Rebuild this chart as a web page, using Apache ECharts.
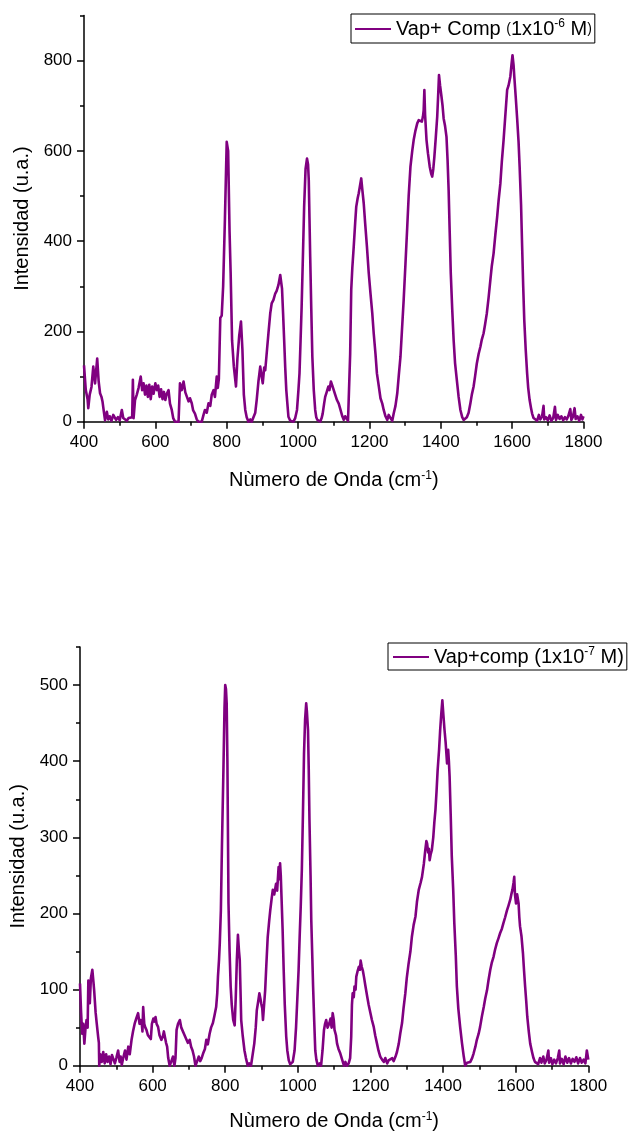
<!DOCTYPE html>
<html>
<head>
<meta charset="utf-8">
<script src="https://cdn.jsdelivr.net/npm/echarts@6/dist/echarts.min.js"></script>
<style>
html,body{margin:0;padding:0;background:#fff;}
#chart{width:632px;height:1133px;}
</style>
</head>
<body>
<div id="chart"></div>
<script>
// ---- Data ----
const xTicks = [400, 600, 800, 1000, 1200, 1400, 1600, 1800];
const yTicksTop = [0, 200, 400, 600, 800];
const yMinorTop = [100, 300, 500, 700, 900];
const yTicksBottom = [0, 100, 200, 300, 400, 500];
const yMinorBottom = [50, 150, 250, 350, 450, 550];

const name6 = 'Vap+ Comp (1x10-6 M)';
const name7 = 'Vap+comp (1x10-7 M)';

const wn6 = [400,405,410,412,416,421,426,431,437,441,445,449,452,456,459,464,468,472,477,482,487,490,495,500,506,510,515,520,525,530,535,537,539,543,548,553,559,563,567,571,575,579,583,587,591,595,600,604,608,612,616,620,624,628,632,637,641,646,650,655,660,665,669,674,679,684,688,693,697,702,706,711,716,721,726,730,735,739,744,749,754,758,763,767,772,775,778,782,786,790,795,800,804,808,811,815,820,823,826,830,835,840,844,848,852,856,861,866,870,875,880,884,889,894,898,901,905,908,913,917,922,926,931,936,940,945,950,955,958,961,964,967,970,973,978,983,987,992,997,1001,1004,1007,1010,1014,1017,1021,1025,1028,1030,1032,1034,1037,1040,1044,1048,1051,1054,1058,1062,1066,1069,1073,1076,1080,1085,1088,1092,1096,1100,1104,1109,1114,1119,1124,1128,1132,1137,1140,1144,1146,1149,1152,1156,1160,1163,1167,1170,1173,1177,1180,1184,1188,1193,1198,1203,1208,1212,1217,1221,1226,1231,1236,1240,1245,1250,1254,1259,1264,1268,1273,1278,1282,1287,1291,1296,1301,1306,1310,1315,1320,1324,1329,1334,1338,1343,1347,1350,1352,1354,1356,1360,1364,1369,1373,1376,1379,1382,1386,1390,1393,1395,1398,1402,1405,1408,1412,1416,1419,1422,1425,1428,1432,1436,1440,1445,1450,1455,1460,1464,1468,1473,1478,1483,1487,1492,1496,1501,1506,1511,1515,1520,1524,1529,1534,1539,1543,1548,1553,1558,1562,1567,1571,1576,1581,1586,1590,1595,1598,1601,1604,1606,1610,1614,1618,1621,1625,1628,1631,1634,1638,1642,1645,1649,1653,1656,1660,1665,1670,1675,1679,1684,1688,1690,1695,1700,1705,1710,1715,1720,1723,1728,1733,1738,1743,1748,1753,1758,1763,1766,1770,1775,1778,1783,1788,1793,1797,1800];
const int6 = [125,70,50,30,60,77,122,85,140,90,63,55,44,20,3,22,5,12,2,15,18,4,10,3,26,8,12,2,8,4,10,93,8,48,60,75,100,70,85,60,80,55,82,50,78,62,85,70,80,55,72,50,66,48,62,70,40,26,8,0,2,0,85,70,89,65,63,45,52,41,25,18,5,0,3,0,15,26,20,41,35,60,70,55,100,75,95,230,235,300,450,620,600,420,330,180,122,100,78,140,190,222,160,60,26,10,0,5,0,4,20,48,90,122,100,85,120,114,160,196,240,262,270,284,290,303,325,295,240,181,120,70,40,11,2,0,0,8,26,70,107,180,255,380,476,560,583,570,535,450,365,250,144,70,26,10,4,0,0,8,18,40,55,65,78,70,89,80,70,60,48,40,26,12,4,12,11,2,5,150,292,340,388,440,476,495,506,520,539,515,484,440,388,330,284,240,196,150,107,80,52,40,26,12,4,15,8,2,18,35,63,100,144,200,270,350,432,500,565,600,624,645,661,668,672,665,676,690,735,680,624,595,565,550,543,560,587,630,676,730,768,745,720,700,672,655,631,580,513,420,329,250,181,130,92,55,26,10,4,0,10,20,41,60,78,100,129,150,166,182,196,215,240,275,314,345,373,415,454,490,528,575,624,680,735,745,765,790,812,790,765,720,672,620,565,480,388,300,225,160,107,75,48,30,18,8,11,2,15,5,12,35,5,10,3,14,2,8,33,4,15,6,12,3,10,5,14,28,4,10,30,6,12,2,15,5,12];

const wn7 = [400,403,406,409,412,415,418,421,423,425,427,430,434,437,439,443,446,450,452,453,456,460,464,468,472,476,480,484,488,492,496,500,505,509,512,515,519,524,528,533,537,542,546,551,555,560,564,567,570,572,574,577,580,583,587,592,595,598,602,605,608,611,615,619,624,628,631,634,637,640,643,647,651,656,660,663,666,670,675,679,684,688,693,697,702,706,710,714,718,722,727,731,735,739,744,748,752,757,761,766,770,775,778,780,783,785,788,791,795,798,800,802,804,806,809,812,815,818,822,826,829,832,835,838,840,842,844,848,853,857,862,866,871,875,880,884,887,891,894,897,899,902,904,907,910,913,917,921,924,928,931,935,940,943,947,949,951,953,955,958,961,964,968,971,975,979,982,986,991,995,998,1002,1005,1008,1011,1014,1017,1020,1023,1025,1028,1030,1032,1035,1037,1040,1042,1045,1048,1051,1055,1060,1064,1068,1072,1075,1078,1082,1087,1090,1093,1096,1099,1101,1105,1108,1112,1117,1122,1127,1131,1135,1140,1144,1147,1149,1151,1154,1156,1159,1161,1165,1168,1171,1173,1176,1179,1182,1186,1191,1195,1200,1204,1209,1213,1218,1222,1227,1232,1237,1241,1246,1250,1255,1260,1264,1269,1273,1278,1282,1287,1291,1296,1300,1305,1310,1314,1319,1324,1328,1333,1338,1342,1347,1351,1354,1356,1359,1361,1363,1366,1369,1373,1376,1379,1382,1385,1389,1392,1395,1398,1399,1401,1404,1407,1411,1414,1416,1418,1421,1424,1428,1431,1435,1438,1442,1447,1452,1457,1461,1466,1470,1475,1480,1484,1489,1493,1498,1502,1507,1512,1516,1521,1525,1530,1534,1539,1543,1548,1553,1557,1562,1566,1571,1576,1580,1585,1588,1591,1594,1596,1598,1601,1604,1608,1610,1612,1616,1620,1623,1626,1629,1632,1636,1640,1645,1649,1653,1658,1662,1667,1671,1676,1680,1685,1690,1692,1697,1701,1706,1711,1716,1720,1722,1727,1732,1737,1742,1747,1752,1757,1762,1767,1772,1777,1782,1787,1792,1796,1800];
const int7 = [108,70,42,55,29,48,60,50,112,95,82,115,126,110,99,70,56,38,30,0,15,5,18,3,15,5,12,2,14,16,3,10,20,5,12,1,10,20,8,25,15,34,45,56,62,69,55,60,56,45,77,55,50,47,40,42,35,55,62,58,64,55,51,40,34,38,45,47,30,25,10,0,5,12,0,10,47,55,60,50,51,40,42,30,34,25,20,12,0,5,12,6,10,16,22,34,28,42,50,56,65,77,95,117,140,161,204,290,388,470,500,495,476,400,213,150,104,80,60,53,90,139,172,150,139,100,60,40,20,10,0,3,0,2,29,50,73,85,95,88,82,75,60,80,99,130,169,190,204,220,231,225,239,230,261,245,266,250,222,180,126,80,38,20,7,2,0,5,20,50,82,125,169,210,257,330,410,455,476,465,441,390,323,250,191,140,104,60,20,8,0,3,0,20,47,55,60,50,56,62,50,69,60,47,40,29,22,16,8,0,5,0,3,10,38,80,95,90,104,100,117,125,130,126,138,130,125,117,105,91,80,69,60,51,40,29,20,12,8,5,10,3,7,5,10,6,12,18,29,42,56,75,95,115,134,150,169,185,196,215,231,240,248,265,283,295,292,280,285,270,278,283,300,320,336,360,388,415,441,462,480,482,460,441,425,397,415,400,380,330,275,230,187,145,104,75,51,30,12,0,4,2,5,10,16,25,34,42,51,65,77,88,99,112,126,135,143,152,161,168,174,180,187,195,204,210,218,225,231,240,248,225,213,225,213,195,183,170,148,125,104,85,64,45,29,18,10,5,7,2,10,4,12,3,8,20,4,10,2,8,3,10,20,3,9,2,12,4,10,3,9,5,11,3,10,4,8,3,20,8];

// ---- Chart ----
const FONT = 'Liberation Sans, Arial, sans-serif';
const PURPLE = '#800080';
const pairs = (xs, ys) => xs.map((x, i) => [x, ys[i]]);
const axisLineStyle = { color: '#000', width: 1.5 };
const plain = v => String(v);

function xAxisFor(grid, gap) {
  return {
    gridIndex: grid, type: 'value', min: 400, max: 1800, interval: 200,
    axisLine: { show: true, onZero: false, lineStyle: axisLineStyle },
    axisTick: { show: true, inside: false, length: 7, lineStyle: axisLineStyle },
    minorTick: { show: true, splitNumber: 2, length: 4, lineStyle: axisLineStyle },
    splitLine: { show: false }, minorSplitLine: { show: false },
    axisLabel: { fontSize: 17, color: '#000', fontFamily: FONT, margin: 12,
      customValues: xTicks, formatter: plain },
    name: 'Nùmero de Onda (cm{sup|-1})', nameLocation: 'middle', nameGap: gap,
    nameTextStyle: { fontSize: 20, color: '#000', fontFamily: FONT,
      rich: { sup: { fontSize: 12, verticalAlign: 'top', fontFamily: FONT, color: '#000', padding: [0, 0, 10, 0] } } }
  };
}
function yAxisMain(grid, max, ticks, gap) {
  return {
    gridIndex: grid, type: 'value', min: 0, max: max, interval: 50, position: 'left',
    axisLine: { show: true, onZero: false, lineStyle: axisLineStyle },
    axisTick: { show: true, length: 7, lineStyle: axisLineStyle, customValues: ticks },
    splitLine: { show: false },
    axisLabel: { fontSize: 17, color: '#000', fontFamily: FONT, margin: 12, customValues: ticks, formatter: plain },
    name: 'Intensidad (u.a.)', nameLocation: 'middle', nameGap: gap, nameRotate: 90,
    nameTextStyle: { fontSize: 20, color: '#000', fontFamily: FONT }
  };
}
function yAxisMinor(grid, max, ticks) {
  return {
    gridIndex: grid, type: 'value', min: 0, max: max, interval: 50, position: 'left', offset: 0,
    axisLine: { show: false, onZero: false },
    axisTick: { show: true, length: 4, lineStyle: axisLineStyle, customValues: ticks },
    splitLine: { show: false },
    axisLabel: { show: false }
  };
}
function legendFor(name, left, top, padding) {
  return {
    data: [name], left: left, top: top, orient: 'horizontal',
    icon: 'rect', itemWidth: 36, itemHeight: 2, itemGap: 0,
    padding: padding, borderColor: '#000', borderWidth: 1, backgroundColor: '#fff',
    textStyle: { fontSize: 20, color: '#000', fontFamily: FONT,
      rich: {
        sup: { fontSize: 12, verticalAlign: 'top', fontFamily: FONT, color: '#000', padding: [0, 0, 10, 0] },
        sp: { fontSize: 14, fontFamily: FONT, color: '#000' }
      } },
    formatter: function (n) {
      if (n === name6) return 'Vap+ Comp {sp|(}1x10{sup|-6} M{sp|)}';
      return 'Vap+comp (1x10{sup|-7} M)';
    }
  };
}

const chart = echarts.init(document.getElementById('chart'), null, { renderer: 'canvas' });
chart.setOption({
  animation: false,
  backgroundColor: '#fff',
  textStyle: { fontFamily: FONT },
  grid: [
    { left: 84, top: 15.5, width: 499.5, height: 406.2, containLabel: false },
    { left: 79, top: 647, width: 509.3, height: 418.7, containLabel: false }
  ],
  legend: [
    legendFor(name6, 351, 14, [4, 3, 4, 4]),
    legendFor(name7, 388, 643, [3, 3, 3, 5])
  ],
  xAxis: [xAxisFor(0, 48), xAxisFor(1, 45)],
  yAxis: [
    yAxisMain(0, 900, yTicksTop, 48),
    yAxisMinor(0, 900, yMinorTop),
    yAxisMain(1, 550, yTicksBottom, 52),
    yAxisMinor(1, 550, yMinorBottom)
  ],
  series: [
    { name: name6, type: 'line', xAxisIndex: 0, yAxisIndex: 0, data: pairs(wn6, int6),
      symbol: 'none', showSymbol: false, smooth: false, color: PURPLE,
      lineStyle: { color: PURPLE, width: 2.6, join: 'round' } },
    { name: name7, type: 'line', xAxisIndex: 1, yAxisIndex: 2, data: pairs(wn7, int7),
      symbol: 'none', showSymbol: false, smooth: false, color: PURPLE,
      lineStyle: { color: PURPLE, width: 2.6, join: 'round' } }
  ]
});
</script>
</body>
</html>
